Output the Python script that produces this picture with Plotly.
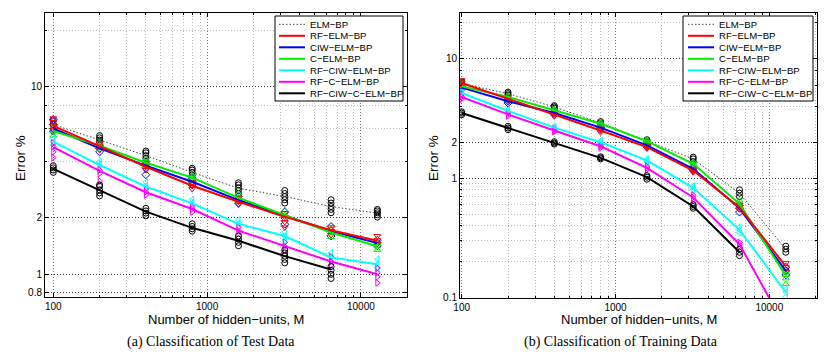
import plotly.graph_objects as go

W, H = 830, 357

# ---------------- data ----------------
hidden_units = [100, 200, 400, 800, 1600, 3200, 6400, 12800]

series_names = ["ELM−BP", "RF−ELM−BP", "CIW−ELM−BP", "C−ELM−BP",
                "RF−CIW−ELM−BP", "RF−C−ELM−BP", "RF−CIW−C−ELM−BP"]
series_colors = ["#000000", "#ff0000", "#0000ff", "#00ee00",
                 "#00ffff", "#ff00ff", "#000000"]
series_symbols = ["circle-open", "triangle-down-open", "diamond-open", "triangle-up-open",
                  "triangle-left-open", "triangle-right-open", "circle-open"]

# (a) test data: mean error % per hidden-unit count
test_elm_bp = [6.3, 5.2, 4.3, 3.5, 2.88, 2.6, 2.3, 2.12]
test_rf_elm_bp = [6.2, 4.8, 3.75, 2.97, 2.44, 2.03, 1.72, 1.51]
test_ciw_elm_bp = [6.0, 4.7, 3.8, 3.12, 2.49, 2.05, 1.7, 1.47]
test_c_elm_bp = [5.82, 4.86, 3.94, 3.28, 2.56, 2.07, 1.67, 1.41]
test_rf_ciw_elm_bp = [5.1, 3.83, 2.94, 2.39, 1.86, 1.6, 1.23, 1.13]
test_rf_c_elm_bp = [4.77, 3.56, 2.74, 2.23, 1.71, 1.41, 1.17, 1.0]
test_rf_ciw_c_elm_bp = [3.65, 2.82, 2.16, 1.77, 1.51, 1.25, 1.06, None]

# (a) test data: individual trials
test_elm_bp_trials = [[6.0, 6.3, 6.6], [4.9, 5.05, 5.2, 5.35, 5.5], [4.0, 4.15, 4.3, 4.45, 4.55],
                      [3.25, 3.38, 3.5, 3.6, 3.68], [2.7, 2.8, 2.9, 3.0, 3.08], [2.4, 2.5, 2.6, 2.7, 2.8],
                      [2.13, 2.22, 2.3, 2.4, 2.5], [2.02, 2.08, 2.13, 2.18, 2.22]]
test_rf_elm_bp_trials = [[5.9, 6.2, 6.5, 6.8], [4.6, 4.8, 5.0], [3.6, 3.75, 3.9], [2.85, 2.97, 3.1],
                         [2.35, 2.44, 2.55], [1.78, 1.9, 2.03, 2.12], [1.62, 1.7, 1.78], [1.45, 1.52, 1.6]]
test_ciw_elm_bp_trials = [[5.8, 6.0, 6.3, 6.7], [4.5, 4.7, 4.9], [3.4, 3.7, 3.9], [3.0, 3.12, 3.25],
                          [2.4, 2.5, 2.6], [1.85, 2.0, 2.15], [1.6, 1.7, 1.8], [1.42, 1.47, 1.52]]
test_c_elm_bp_trials = [[5.5, 5.8, 6.1], [4.7, 4.9, 5.05], [3.8, 3.95, 4.1], [3.15, 3.28, 3.4],
                        [2.45, 2.56, 2.7], [1.95, 2.07, 2.2], [1.58, 1.67, 1.75], [1.35, 1.41, 1.47]]
test_rf_ciw_elm_bp_trials = [[4.9, 5.1, 5.3], [3.7, 3.85, 4.0], [2.8, 2.95, 3.1], [2.3, 2.4, 2.5],
                             [1.8, 1.87, 1.95], [1.52, 1.6, 1.68], [1.18, 1.24, 1.3], [1.08, 1.13, 1.2]]
test_rf_c_elm_bp_trials = [[4.2, 4.5, 4.8, 5.0], [3.15, 3.45, 3.6], [2.65, 2.75, 2.85], [2.15, 2.23, 2.3],
                           [1.65, 1.71, 1.78], [1.35, 1.41, 1.48], [1.12, 1.17, 1.24], [0.9, 0.97, 1.02, 1.08]]
test_rf_ciw_c_elm_bp_trials = [[3.5, 3.6, 3.7, 3.8], [2.62, 2.72, 2.82, 2.95, 3.0], [2.05, 2.12, 2.18, 2.25],
                               [1.7, 1.75, 1.8, 1.86], [1.42, 1.48, 1.54, 1.6], [1.15, 1.2, 1.25, 1.3, 1.35],
                               [0.95, 1.0, 1.05, 1.1], []]

# (b) training data: mean error %
train_elm_bp = [6.2, 5.1, 3.95, 2.9, 2.05, 1.45, 0.75, 0.255]
train_rf_elm_bp = [6.27, 4.63, 3.42, 2.51, 1.82, 1.16, 0.57, 0.183]
train_ciw_elm_bp = [5.73, 4.4, 3.51, 2.65, 1.88, 1.2, 0.56, 0.168]
train_c_elm_bp = [5.88, 4.78, 3.7, 2.86, 2.04, 1.32, 0.61, 0.153]
train_rf_ciw_elm_bp = [5.16, 3.65, 2.65, 2.0, 1.41, 0.83, 0.37, 0.111]
train_rf_c_elm_bp = [4.78, 3.42, 2.51, 1.85, 1.22, 0.69, 0.28, 0.056]
train_rf_ciw_c_elm_bp = [3.51, 2.63, 1.97, 1.48, 1.02, 0.58, 0.24, None]

# (b) training data: individual trials
train_elm_bp_trials = [[6.0, 6.2, 6.4], [4.95, 5.1, 5.25], [3.85, 3.95, 4.05], [2.82, 2.9, 2.98],
                       [2.0, 2.05, 2.1], [1.38, 1.45, 1.5], [0.7, 0.75, 0.8], [0.24, 0.255, 0.27]]
train_rf_elm_bp_trials = [[6.0, 6.3, 6.6], [4.5, 4.65, 4.8], [3.3, 3.42, 3.55], [2.42, 2.51, 2.6],
                          [1.77, 1.82, 1.88], [1.12, 1.16, 1.2], [0.55, 0.57, 0.6], [0.165, 0.18, 0.195]]
train_ciw_elm_bp_trials = [[5.6, 5.75, 5.9], [4.25, 4.4, 4.55], [3.4, 3.5, 3.6], [2.58, 2.65, 2.72],
                           [1.83, 1.88, 1.93], [1.16, 1.2, 1.24], [0.52, 0.56, 0.59], [0.155, 0.168, 0.18]]
train_c_elm_bp_trials = [[5.7, 5.9, 6.05], [4.65, 4.78, 4.9], [3.6, 3.7, 3.8], [2.78, 2.86, 2.95],
                         [1.98, 2.04, 2.1], [1.27, 1.32, 1.37], [0.58, 0.61, 0.65], [0.13, 0.145, 0.155, 0.165]]
train_rf_ciw_elm_bp_trials = [[5.0, 5.16, 5.3], [3.55, 3.65, 3.75], [2.58, 2.65, 2.72], [1.95, 2.0, 2.05],
                              [1.37, 1.41, 1.45], [0.8, 0.83, 0.86], [0.35, 0.37, 0.39], [0.102, 0.111, 0.118]]
train_rf_c_elm_bp_trials = [[4.6, 4.8, 5.0], [3.32, 3.42, 3.5], [2.45, 2.51, 2.58], [1.8, 1.85, 1.9],
                            [1.18, 1.22, 1.26], [0.66, 0.69, 0.72], [0.27, 0.28, 0.29], [0.05, 0.056, 0.06]]
train_rf_ciw_c_elm_bp_trials = [[3.4, 3.5, 3.6], [2.55, 2.63, 2.72], [1.93, 1.97, 2.02], [1.45, 1.48, 1.51],
                                [0.98, 1.02, 1.05], [0.56, 0.58, 0.6], [0.225, 0.24, 0.255], []]

# tick labels
x_tick_vals = [100, 1000, 10000]
x_tick_text = ["100", "1000", "10000"]
x_minor_vals = [200, 300, 400, 500, 600, 700, 800, 900,
                2000, 3000, 4000, 5000, 6000, 7000, 8000, 9000, 20000]
test_y_tick_vals = [0.8, 1, 2, 10]
test_y_tick_text = ["0.8", "1", "2", "10"]
test_y_minor_vals = [4, 6, 8, 20]
train_y_tick_vals = [0.1, 1, 2, 10]
train_y_tick_text = ["0.1", "1", "2", "10"]
train_y_minor_vals = [0.2, 0.3, 0.4, 0.5, 0.6, 0.7, 0.8, 0.9, 4, 6, 8, 20]

x_title = "Number of hidden−units, M"
y_title = "Error %"
caption_a = "(a) Classification of Test Data"
caption_b = "(b) Classification of Training Data"

test_means = [test_elm_bp, test_rf_elm_bp, test_ciw_elm_bp, test_c_elm_bp,
              test_rf_ciw_elm_bp, test_rf_c_elm_bp, test_rf_ciw_c_elm_bp]
test_trials = [test_elm_bp_trials, test_rf_elm_bp_trials, test_ciw_elm_bp_trials, test_c_elm_bp_trials,
               test_rf_ciw_elm_bp_trials, test_rf_c_elm_bp_trials, test_rf_ciw_c_elm_bp_trials]
train_means = [train_elm_bp, train_rf_elm_bp, train_ciw_elm_bp, train_c_elm_bp,
               train_rf_ciw_elm_bp, train_rf_c_elm_bp, train_rf_ciw_c_elm_bp]
train_trials = [train_elm_bp_trials, train_rf_elm_bp_trials, train_ciw_elm_bp_trials, train_c_elm_bp_trials,
                train_rf_ciw_elm_bp_trials, train_rf_c_elm_bp_trials, train_rf_ciw_c_elm_bp_trials]

draw_order = [0, 2, 3, 4, 5, 6, 1]

ELM_DOT = dict(color="#444444", width=1, dash="1.5px,2px")
GRID_MAJOR = "#777777"
GRID_MINOR = "#bbbbbb"
GRID_DASH = "1px,2px"

# ---------------- figure ----------------
fig = go.Figure()


def px_x(p):
    return p / W


def px_y(p):
    return 1 - p / H


def add_panel(means, trials, xa, ya):
    for i in draw_order:
        xs, ys = [], []
        for xv, tr in zip(hidden_units, trials[i]):
            for v in tr:
                xs.append(xv)
                ys.append(v)
        fig.add_trace(go.Scatter(
            x=xs, y=ys, mode="markers", xaxis=xa, yaxis=ya, showlegend=False,
            marker=dict(symbol=series_symbols[i], size=6, color=series_colors[i],
                        line=dict(width=1, color=series_colors[i])),
            hoverinfo="skip"))
    for i in draw_order:
        line = ELM_DOT if i == 0 else dict(color=series_colors[i], width=2)
        fig.add_trace(go.Scatter(
            x=hidden_units, y=means[i], mode="lines", xaxis=xa, yaxis=ya,
            showlegend=False, line=line, name=series_names[i], connectgaps=False))


add_panel(test_means, test_trials, "x", "y")
add_panel(train_means, train_trials, "x2", "y2")

tick_font = dict(family="Liberation Sans, Arial, sans-serif", size=10, color="black")


def x_cfg(dom, rng, anchor):
    return dict(type="log", domain=dom, range=rng, anchor=anchor, automargin=False,
                tickmode="array", tickvals=x_tick_vals, ticktext=x_tick_text,
                showline=True, linecolor="black", linewidth=1, mirror="allticks",
                ticks="inside", ticklen=4, tickcolor="black", tickwidth=1,
                showgrid=True, gridcolor=GRID_MAJOR, griddash=GRID_DASH, gridwidth=1,
                minor=dict(tickmode="array", tickvals=x_minor_vals, ticks="inside", ticklen=2,
                           tickcolor="black", showgrid=True, gridcolor=GRID_MINOR,
                           griddash=GRID_DASH, gridwidth=1),
                tickfont=tick_font, zeroline=False)


def y_cfg(dom, rng, anchor, tv, tt, mv):
    return dict(type="log", domain=dom, range=rng, anchor=anchor, automargin=False,
                tickmode="array", tickvals=tv, ticktext=tt,
                showline=True, linecolor="black", linewidth=1, mirror="allticks",
                ticks="inside", ticklen=4, tickcolor="black", tickwidth=1,
                showgrid=True, gridcolor="#333333", griddash=GRID_DASH, gridwidth=1,
                minor=dict(tickmode="array", tickvals=mv, ticks="inside", ticklen=2,
                           tickcolor="black", showgrid=True, gridcolor=GRID_MINOR,
                           griddash=GRID_DASH, gridwidth=1),
                tickfont=tick_font, zeroline=False)


fig.update_layout(
    width=W, height=H,
    margin=dict(l=0, r=0, t=0, b=0, autoexpand=False),
    paper_bgcolor="white", plot_bgcolor="white",
    showlegend=False,
    xaxis=x_cfg([px_x(45), px_x(407)], [1.946, 4.300], "y"),
    yaxis=y_cfg([px_y(296.7), px_y(13.3)], [-0.1196, 1.393], "x",
                test_y_tick_vals, test_y_tick_text, test_y_minor_vals),
    xaxis2=x_cfg([px_x(460), px_x(816.7)], [1.989, 4.308], "y2"),
    yaxis2=y_cfg([px_y(297.7), px_y(12.7)], [-1.0, 1.385], "x2",
                 train_y_tick_vals, train_y_tick_text, train_y_minor_vals),
)

label_font = dict(family="Liberation Sans, Arial, sans-serif", size=13, color="black")
cap_font = dict(family="Liberation Serif, Times New Roman, serif", size=14, color="black")

annotations = []
shapes = []
for (xc_title, xc_cap, yl_x, cap) in [(226, 211, 20, caption_a), (638.5, 621, 433, caption_b)]:
    annotations.append(dict(text=x_title, x=px_x(xc_title), y=px_y(319.5), xref="paper", yref="paper",
                            showarrow=False, xanchor="center", yanchor="middle", borderpad=0,
                            font=label_font))
    annotations.append(dict(text=y_title, x=px_x(yl_x), y=px_y(158), xref="paper", yref="paper",
                            showarrow=False, xanchor="center", yanchor="middle", textangle=-90,
                            font=dict(family="Liberation Sans, Arial, sans-serif", size=13.5,
                                      color="black")))
    annotations.append(dict(text=cap, x=px_x(xc_cap), y=px_y(342), xref="paper", yref="paper",
                            showarrow=False, xanchor="center", yanchor="middle", font=cap_font))

# manual legends (box, line samples, labels)
legend_font = dict(family="Liberation Sans, Arial, sans-serif", size=9.6, color="black")
for (bx0, bx1, lx0, lx1, tx) in [(275, 403, 279, 305, 307.5), (683, 813, 688, 714, 716.5)]:
    shapes.append(dict(type="rect", xref="paper", yref="paper",
                       x0=px_x(bx0), x1=px_x(bx1), y0=px_y(101), y1=px_y(16),
                       line=dict(color="black", width=1), fillcolor="white", layer="above"))
    for k, name in enumerate(series_names):
        yy = 24.3 + 11.5 * k
        ln = ELM_DOT if k == 0 else dict(color=series_colors[k], width=2)
        shapes.append(dict(type="line", xref="paper", yref="paper",
                           x0=px_x(lx0), x1=px_x(lx1), y0=px_y(yy), y1=px_y(yy),
                           line=ln, layer="above"))
        annotations.append(dict(text=name, x=px_x(tx), y=px_y(yy), xref="paper", yref="paper",
                                showarrow=False, xanchor="left", yanchor="middle", font=legend_font))

fig.update_layout(annotations=annotations, shapes=shapes)

fig.write_html("out.html", config={"displayModeBar": False, "staticPlot": True},
               post_script="document.body.style.margin='0px';document.body.style.overflow='hidden';")
